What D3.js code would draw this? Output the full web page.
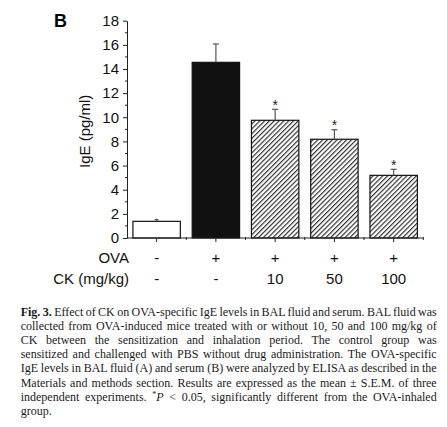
<!DOCTYPE html>
<html>
<head>
<meta charset="utf-8">
<script src="https://cdn.jsdelivr.net/npm/d3@7"></script>
<style>
  body { margin: 0; background: #fff; }
  svg { display: block; }
</style>
</head>
<body>
<div class="chart"></div>
<script>
// Values (panel B, serum IgE).
const groups = ["PBS", "OVA", "CK10", "CK50", "CK100"];
const ovaRow = ["-", "+", "+", "+", "+"];
const ckRow = ["-", "-", "10", "50", "100"];
const means = [1.38, 14.55, 9.75, 8.18, 5.19];
const sems = [0.14, 1.52, 0.91, 0.79, 0.50];
const significant = [false, false, true, true, true];
const fillKind = ["white", "black", "hatch", "hatch", "hatch"];
const yTicks = [0, 2, 4, 6, 8, 10, 12, 14, 16, 18];

const captionLines = [
  "Effect of CK on OVA-specific IgE levels in BAL fluid and serum. BAL fluid was",
  "collected from OVA-induced mice treated with or without 10, 50 and 100 mg/kg of",
  "CK between the sensitization and inhalation period. The control group was",
  "sensitized and challenged with PBS without drug administration. The OVA-specific",
  "IgE levels in BAL fluid (A) and serum (B) were analyzed by ELISA as described in the",
  "Materials and methods section. Results are expressed as the mean \u00b1 S.E.M. of three",
  "independent experiments. *P < 0.05, significantly different from the OVA-inhaled",
  "group."
];

const width = 447, height = 427;
const plot = { left: 127, right: 423.3, top: 20.7, bottom: 238 };

const svg = d3.select(".chart").append("svg")
  .attr("width", width)
  .attr("height", height)
  .style("font-family", "'Liberation Sans', Arial, sans-serif");

// hatch pattern for the CK bars
const defs = svg.append("defs");
const pat = defs.append("pattern")
  .attr("id", "hatch")
  .attr("patternUnits", "userSpaceOnUse")
  .attr("width", 3.4)
  .attr("height", 3.4)
  .attr("patternTransform", "rotate(45)");
pat.append("rect").attr("width", 3.4).attr("height", 3.4).attr("fill", "#fff");
pat.append("line")
  .attr("x1", 0.6).attr("y1", 0).attr("x2", 0.6).attr("y2", 3.4)
  .attr("stroke", "#222").attr("stroke-width", 1.1);

const x = d3.scaleBand()
  .domain(groups)
  .range([plot.left, plot.right])
  .paddingInner(0.2)
  .paddingOuter(0.1);
const y = d3.scaleLinear().domain([0, 18]).range([plot.bottom, plot.top]);

// panel letter
svg.append("text")
  .attr("x", 54).attr("y", 27)
  .attr("font-size", 18).attr("font-weight", "bold")
  .text("B");

// y axis
const yAxis = svg.append("g")
  .attr("transform", `translate(${plot.left},0)`)
  .call(d3.axisLeft(y).tickValues(yTicks).tickSize(4).tickPadding(4).tickSizeOuter(0));
yAxis.select(".domain").attr("stroke", "#222");
yAxis.selectAll(".tick line").attr("stroke", "#222");
yAxis.selectAll(".tick text")
  .attr("font-size", 15)
  .attr("font-family", "'Liberation Sans', Arial, sans-serif")
  .attr("fill", "#111");
// minor ticks at odd values
yAxis.selectAll(".minor")
  .data(d3.range(1, 18, 2))
  .join("line")
  .attr("class", "minor")
  .attr("x1", -2).attr("x2", 0)
  .attr("y1", d => y(d)).attr("y2", d => y(d))
  .attr("stroke", "#222");

svg.append("text")
  .attr("transform", `translate(90,${(plot.top + plot.bottom) / 2 + 2}) rotate(-90)`)
  .attr("text-anchor", "middle")
  .attr("font-size", 15)
  .attr("fill", "#111")
  .text("IgE (pg/ml)");

// bars
const barColor = k => k === "black" ? "#111" : k === "hatch" ? "url(#hatch)" : "#fff";
svg.append("g").selectAll("rect")
  .data(groups)
  .join("rect")
  .attr("x", d => x(d))
  .attr("y", (d, i) => y(means[i]))
  .attr("width", x.bandwidth())
  .attr("height", (d, i) => y(0) - y(means[i]))
  .attr("fill", (d, i) => barColor(fillKind[i]))
  .attr("stroke", "#111")
  .attr("stroke-width", 1.2);

// error bars (upper half only)
const err = svg.append("g").attr("stroke", "#555").attr("stroke-width", 1.2);
groups.forEach((g, i) => {
  const cx = x(g) + x.bandwidth() / 2;
  const cap = i === 0 ? 2 : 3;
  err.append("line")
    .attr("x1", cx).attr("x2", cx)
    .attr("y1", y(means[i])).attr("y2", y(means[i] + sems[i]));
  err.append("line")
    .attr("x1", cx - cap).attr("x2", cx + cap)
    .attr("y1", y(means[i] + sems[i])).attr("y2", y(means[i] + sems[i]));
});

// significance stars
svg.append("g").selectAll("text")
  .data(groups.filter((g, i) => significant[i]))
  .join("text")
  .attr("x", d => x(d) + x.bandwidth() / 2)
  .attr("y", d => { const i = groups.indexOf(d); return y(means[i] + sems[i]) + 0.5; })
  .attr("text-anchor", "middle")
  .attr("font-size", 14)
  .attr("fill", "#222")
  .text("*");

// x axis baseline with ticks
const xa = svg.append("g").attr("stroke", "#222");
xa.append("line")
  .attr("x1", plot.left).attr("x2", plot.right)
  .attr("y1", plot.bottom).attr("y2", plot.bottom);
groups.forEach(g => {
  const cx = x(g) + x.bandwidth() / 2;
  xa.append("line").attr("x1", cx).attr("x2", cx)
    .attr("y1", plot.bottom).attr("y2", plot.bottom + 4);
});
groups.forEach((g, i) => {
  const bx = x(g) + x.bandwidth() + x.step() * x.paddingInner() / 2;
  xa.append("line").attr("x1", bx).attr("x2", bx)
    .attr("y1", plot.bottom - 1).attr("y2", plot.bottom + 2);
});

// treatment rows under the axis
const rows = [["OVA", ovaRow, 263], ["CK (mg/kg)", ckRow, 284]];
rows.forEach(([label, vals, yy]) => {
  svg.append("text")
    .attr("x", 129).attr("y", yy)
    .attr("text-anchor", "end")
    .attr("font-size", 15)
    .attr("fill", "#111")
    .text(label);
  svg.append("g").selectAll("text")
    .data(groups)
    .join("text")
    .attr("x", d => x(d) + x.bandwidth() / 2)
    .attr("y", yy)
    .attr("text-anchor", "middle")
    .attr("font-size", 15)
    .attr("fill", "#111")
    .text((d, i) => vals[i]);
});

// caption, justified line by line
const capLeft = 20.7, capRight = 436.7, capTop = 316, lineH = 14.1;
const cap = svg.append("g")
  .style("font-family", "'Liberation Serif', 'Times New Roman', serif")
  .attr("font-size", 12)
  .attr("fill", "#1a1a1a");
captionLines.forEach((line, i) => {
  const t = cap.append("text")
    .attr("x", capLeft)
    .attr("y", capTop + i * lineH);
  if (i === 0) {
    t.append("tspan").attr("font-weight", "bold").text("Fig. 3.");
    t.append("tspan").text(" " + line);
  } else if (i === 6) {
    const parts = line.split("*");
    t.append("tspan").text(parts[0]);
    t.append("tspan").attr("font-size", 8).attr("dy", -4).text("*");
    t.append("tspan").attr("font-style", "italic").attr("dy", 4).text(parts[1].slice(0, 1));
    t.append("tspan").text(parts[1].slice(1));
  } else {
    t.text(line);
  }
  if (i < captionLines.length - 1) {
    const w = t.node().getComputedTextLength();
    const full = (i === 0 ? "Fig. 3. " + line : line);
    const spaces = (full.match(/ /g) || []).length;
    t.attr("word-spacing", (capRight - capLeft - w) / spaces);
  }
});
</script>
</body>
</html>
